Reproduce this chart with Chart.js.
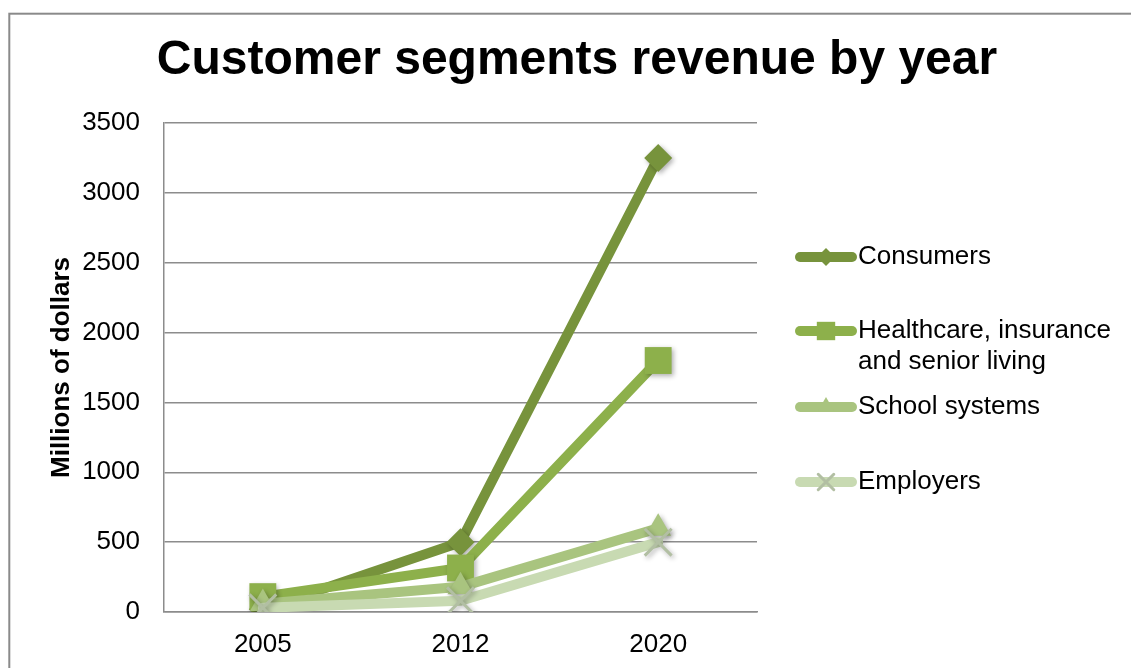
<!DOCTYPE html>
<html>
<head>
<meta charset="utf-8">
<title>Customer segments revenue by year</title>
<script src="https://cdn.jsdelivr.net/npm/chart.js@4/dist/chart.umd.min.js"></script>
<style>
  html, body { margin: 0; padding: 0; background: #ffffff; overflow: hidden; }
  #wrap { width: 1131px; height: 668px; position: relative; }
</style>
</head>
<body>
<div id="wrap"><canvas id="chart" width="1131" height="668"></canvas></div>
<script>
// Revenue per customer segment, millions of dollars
const years = ['2005', '2012', '2020'];
const consumers = [20, 500, 3250];
const healthcare = [110, 315, 1800];
const schoolSystems = [60, 180, 600];
const employers = [30, 80, 500];

const seriesNames = ['Consumers', 'Healthcare, insurance and senior living', 'School systems', 'Employers'];
const legendLines = [['Consumers'], ['Healthcare, insurance', 'and senior living'], ['School systems'], ['Employers']];
const yTickLabels = ['0', '500', '1000', '1500', '2000', '2500', '3000', '3500'];
const yTickMin = 0, yTickMax = 3500, yTickStep = 500;

const FONT = "'Liberation Sans', Arial, Helvetica, sans-serif";
const GRID = '#8c8c8c';
const COLORS = ['#77933c', '#8db04b', '#a9c47f', '#c8dab2'];

// soft drop shadow under every marker
const PointEl = Chart.PointElement;
const baseDraw = PointEl.prototype.draw;
PointEl.prototype.draw = function (ctx, area) {
  ctx.save();
  ctx.shadowColor = 'rgba(0,0,0,0.32)';
  ctx.shadowBlur = 5;
  ctx.shadowOffsetX = 2;
  ctx.shadowOffsetY = 2;
  baseDraw.call(this, ctx, area);
  ctx.restore();
};

function series(i, data, style, radius, border, borderWidth, order) {
  return {
    label: seriesNames[i],
    data: data,
    borderColor: COLORS[i],
    backgroundColor: COLORS[i],
    borderWidth: 10,
    borderJoinStyle: 'round',
    borderCapStyle: 'round',
    tension: 0,
    pointStyle: style,
    pointRadius: radius,
    pointHoverRadius: radius,
    pointBackgroundColor: COLORS[i],
    pointBorderColor: border,
    pointBorderWidth: borderWidth,
    order: order
  };
}

const frame = {
  id: 'frame',
  beforeDraw(chart) {
    const ctx = chart.ctx;
    ctx.save();
    ctx.fillStyle = '#ffffff';
    ctx.fillRect(0, 0, chart.width, chart.height);
    ctx.strokeStyle = '#8a8a8a';
    ctx.lineWidth = 2;
    ctx.strokeRect(9.3, 13.7, chart.width + 20, chart.height + 20);
    ctx.restore();
  }
};

const sideLegend = {
  id: 'sideLegend',
  afterDraw(chart, args, opts) {
    const ctx = chart.ctx;
    const sizes = opts.markerRadius;
    chart.data.datasets.forEach((ds, i) => {
      const y = opts.rows[i];
      ctx.save();
      ctx.strokeStyle = ds.borderColor;
      ctx.lineWidth = 10;
      ctx.lineCap = 'round';
      ctx.beginPath();
      ctx.moveTo(opts.lineStart, y);
      ctx.lineTo(opts.lineEnd, y);
      ctx.stroke();
      ctx.fillStyle = ds.pointBackgroundColor;
      ctx.strokeStyle = ds.pointBorderColor;
      ctx.lineWidth = ds.pointBorderWidth;
      Chart.helpers.drawPoint(ctx, {
        pointStyle: ds.pointStyle,
        rotation: 0,
        radius: sizes[i],
        borderWidth: ds.pointBorderWidth
      }, (opts.lineStart + opts.lineEnd) / 2, y);
      ctx.fillStyle = '#000000';
      ctx.font = '26px ' + FONT;
      ctx.textBaseline = 'middle';
      ctx.textAlign = 'left';
      legendLines[i].forEach((line, k) => {
        ctx.fillText(line, opts.textX, y + k * opts.lineGap);
      });
      ctx.restore();
    });
  }
};

new Chart(document.getElementById('chart'), {
  type: 'line',
  data: {
    labels: years,
    datasets: [
      series(0, consumers, 'rectRot', 14, '#77933c', 0, 3),
      series(1, healthcare, 'rect', 19, '#8db04b', 0, 2),
      series(2, schoolSystems, 'triangle', 15, '#a9c47f', 0, 1),
      series(3, employers, 'crossRot', 19, '#b2bfa3', 3, 0)
    ]
  },
  options: {
    responsive: false,
    animation: false,
    events: [],
    layout: { padding: { left: 23, right: 0, top: 0, bottom: 0 } },
    plugins: {
      legend: { display: false },
      tooltip: { enabled: false },
      title: {
        display: true,
        text: 'Customer segments revenue by year',
        color: '#000000',
        font: { family: FONT, size: 48, weight: 'bold' },
        padding: { top: 32, bottom: 33.4 }
      },
      sideLegend: {
        rows: [257, 331, 407, 482],
        lineStart: 800,
        lineEnd: 852,
        textX: 858,
        lineGap: 31,
        markerRadius: [9, 13, 10, 11]
      }
    },
    scales: {
      x: {
        offset: true,
        grid: { display: false, drawTicks: false, offset: true },
        border: { display: true, color: GRID, width: 1.5 },
        ticks: { color: '#000000', font: { family: FONT, size: 26 }, padding: 17 },
        afterFit(scale) { scale.height = 56; }
      },
      y: {
        min: yTickMin,
        max: yTickMax,
        ticks: {
          stepSize: yTickStep,
          color: '#000000',
          font: { family: FONT, size: 26 },
          padding: 24,
          callback: (value, index) => yTickLabels[index]
        },
        grid: { color: GRID, lineWidth: 1.5, drawTicks: false },
        border: { display: true, color: GRID, width: 1.5 },
        title: {
          display: true,
          text: 'Millions of dollars',
          color: '#000000',
          font: { family: FONT, size: 26, weight: 'bold' },
          padding: { top: 23, bottom: 0 }
        },
        afterFit(scale) { scale.width = 141; }
      },
      side: {
        type: 'linear',
        position: 'right',
        display: true,
        grid: { display: false, drawTicks: false },
        border: { display: false },
        ticks: { display: false },
        afterFit(scale) { scale.width = 374; }
      }
    }
  }
  ,
  plugins: [frame, sideLegend]
});
</script>
</body>
</html>
